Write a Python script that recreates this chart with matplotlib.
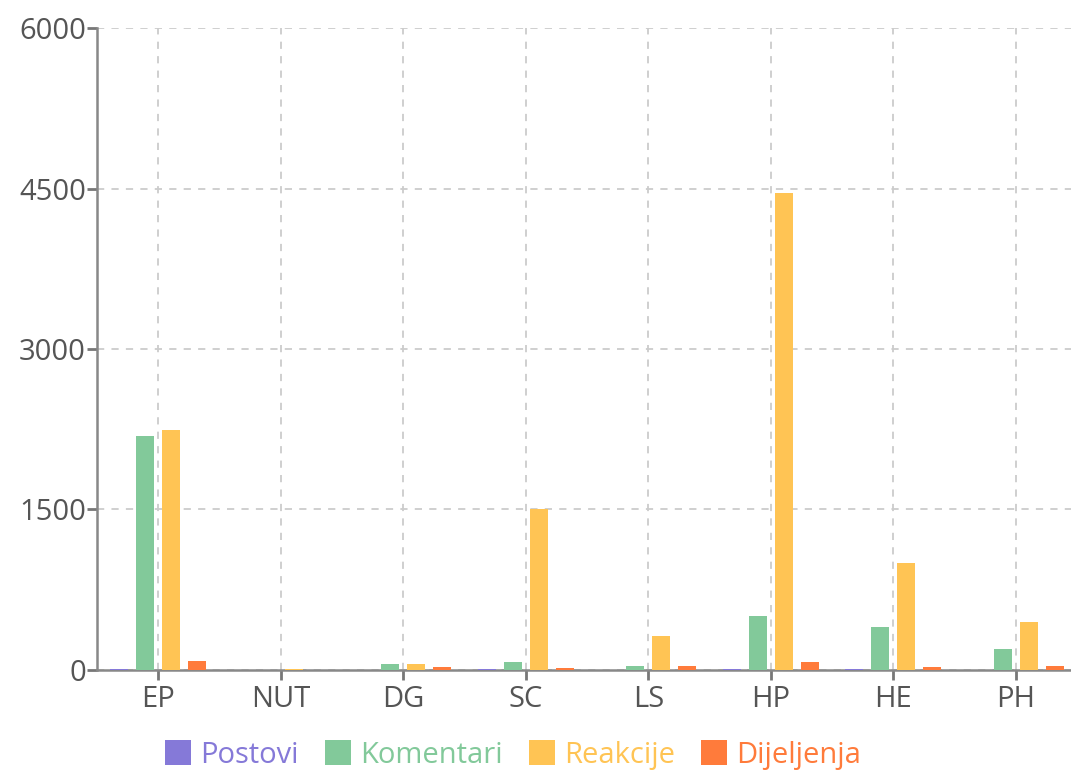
import matplotlib
matplotlib.use("Agg")
import matplotlib.pyplot as plt
import numpy as np
from matplotlib.patches import Patch

categories = ["EP", "NUT", "DG", "SC", "LS", "HP", "HE", "PH"]
series_names = ["Postovi", "Komentari", "Reakcije", "Dijeljenja"]
postovi = [6, 3, 4, 5, 4, 6, 5, 4]
komentari = [2190, 0, 56, 72, 40, 500, 400, 200]
reakcije = [2240, 6, 53, 1500, 318, 4460, 1000, 450]
dijeljenja = [84, 0, 31, 15, 40, 72, 31, 40]
yticks = [0, 1500, 3000, 4500, 6000]
colors = ["#8579d8", "#82c99a", "#ffc454", "#ff7b3b"]

plt.rcParams['font.family'] = ['Open Sans', 'DejaVu Sans']
fig = plt.figure(figsize=(10.71, 7.74), dpi=100)
ax = fig.add_axes([0.0906, 0.1344, 0.9094, 0.8294])

data = [postovi, komentari, reakcije, dijeljenja]
x = np.arange(len(categories))
step = 0.212
width = 0.147
for i, (vals, c) in enumerate(zip(data, colors)):
    ax.bar(x + (i - 1.5) * step, vals, width=width, color=c, zorder=3)

ax.set_xlim(-0.5, 7.45)
ax.set_ylim(0, 6000)
ax.set_yticks(yticks)
ax.set_xticks(x)
ax.set_xticklabels(categories)
ax.grid(True, color="#cccccc", linestyle=(0, (4, 4)), linewidth=1.3, zorder=0)
for s in ["top", "right"]:
    ax.spines[s].set_visible(False)
for s in ["left", "bottom"]:
    ax.spines[s].set_color("#888888")
    ax.spines[s].set_linewidth(1.8)
ax.tick_params(axis="both", colors="#777777", labelcolor="#555555", labelsize=21,
               length=7, width=2)
ax.tick_params(axis="x", pad=4)
ax.tick_params(axis="y", pad=1)

handles = [Patch(facecolor=c, edgecolor="none") for c in colors]
leg = fig.legend(handles, series_names, loc="center", bbox_to_anchor=(513 / 1071, 1 - 755 / 774),
                 ncol=4, frameon=False, fontsize=21, handlelength=0.9, handleheight=0.9,
                 handletextpad=0.3, columnspacing=0.9, labelcolor=colors)

fig.savefig("out.png", dpi=100)
